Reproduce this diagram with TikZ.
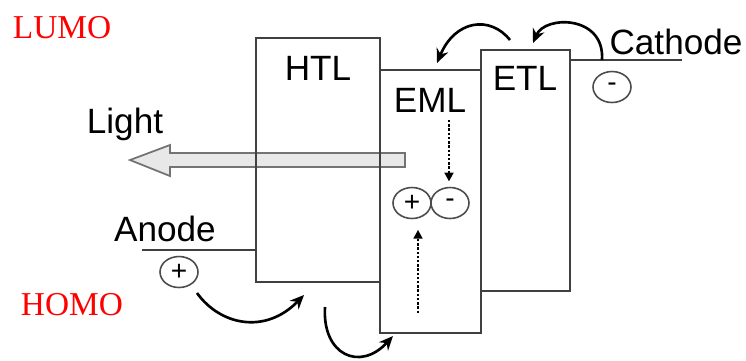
\documentclass[tikz,border=0pt]{standalone}
\usepackage{fontspec}
\setmainfont{Liberation Sans}
\newfontfamily\levelfont{Liberation Serif}
\usetikzlibrary{shapes.geometric,arrows.meta,positioning,calc}

\begin{document}
\begin{tikzpicture}[x=0.02cm,y=-0.02cm,
    layer/.style={draw=black!75,line width=1.2pt},
    lbl/.style={font=\fontsize{20}{24}\selectfont},
    level/.style={red,font=\levelfont\fontsize{19}{22}\selectfont},
    charge/.style={ellipse,draw=black!70,line width=0.9pt,minimum width=0.76cm,minimum height=0.62cm,inner sep=0pt,font=\fontsize{16}{16}\selectfont},
    hop/.style={-{Stealth[length=8pt,width=7pt]},line width=1.5pt},
    drift/.style={-{Triangle[length=5pt,width=5pt]},densely dotted,line width=1.4pt}]
    \useasboundingbox (0,0) rectangle (746,360);
    % light leaving the device
    \draw[black!55,fill=gray!18,line width=1pt] (405,153) -- (170,153) -- (170,145) -- (130,160)
        -- (170,176) -- (170,167) -- (405,167) -- cycle;
    \node[lbl] (light) at (125,124) {Light};
    % layers
    \draw[layer] (256,38) rectangle (380,282);
    \draw[layer] (380,70) rectangle (481,333);
    \draw[layer] (481,50) rectangle (570,291);
    \node[lbl] (htl) at (318,68) {HTL};
    \node[lbl] (eml) at (430,100) {EML};
    \node[lbl] (etl) at (525,78) {ETL};
    % electrodes
    \draw[layer] (570,60) -- (682,60);
    \node[lbl] (cathode) at (676,42) {Cathode};
    \draw[layer] (142,250) -- (256,250);
    \node[lbl] (anode) at (165,229) {Anode};
    % charges
    \node[charge] (elec) at (612,87) {-};
    \node[charge] (hole) at (179,272) {+};
    \node[charge] (hplus) at (412,203) {+};
    \node[charge] (eminus) at (450,203) {-};
    % hops
    \coordinate (h1) at (197,293);
    \coordinate (h2) at (304,295);
    \coordinate (h3) at (325,307);
    \coordinate (h4) at (393,336);
    \coordinate (e1) at (602,60);
    \coordinate (e2) at (533,43);
    \coordinate (e3) at (510,40);
    \coordinate (e4) at (437,63);
    \draw[hop] (h1) .. controls (220,325) and (265,335) .. (h2);
    \draw[hop] (h3) .. controls (322,355) and (360,372) .. (h4);
    \draw[hop] (e1) .. controls (605,15) and (545,15) .. (e2);
    \draw[hop] (e3) .. controls (490,15) and (455,20) .. (e4);
    % drift to recombination
    \coordinate (etop) at (449,120);
    \coordinate (hbot) at (418,313);
    \draw[drift,shorten >=3pt] (etop) -- (etop |- eminus.north);
    \draw[drift,shorten >=6pt] (hbot) -- (hbot |- hplus.south);
    % levels
    \node[level] (lumo) at (62,28) {LUMO};
    \node[level] (homo) at (72,305) {HOMO};
\end{tikzpicture}
\end{document}
